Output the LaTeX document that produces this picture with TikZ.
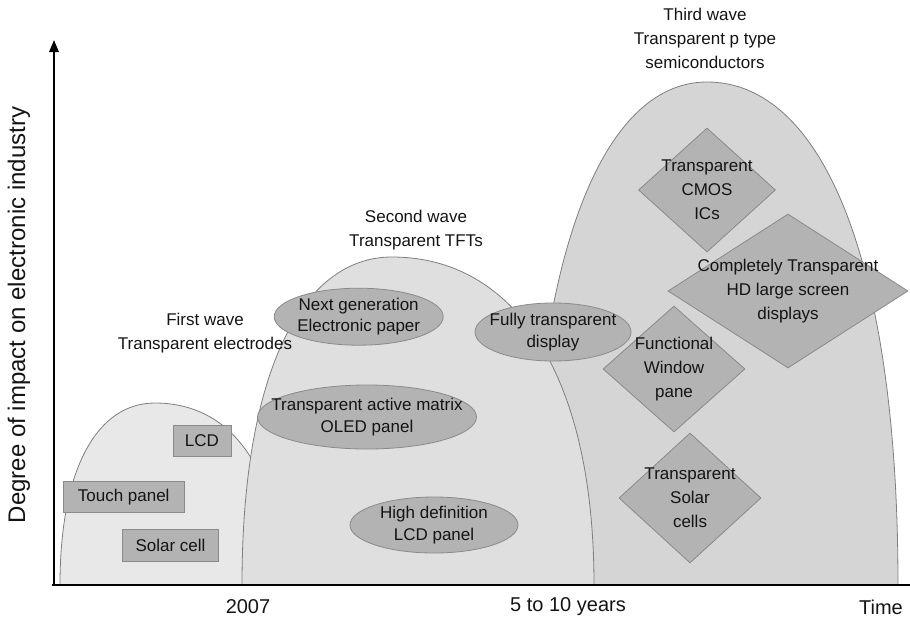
\documentclass[tikz,border=0pt]{standalone}
\usepackage{fontspec}
\setmainfont{Liberation Sans}
\usetikzlibrary{shapes.geometric,arrows.meta}
\newdimen\pxu \pxu=0.75pt
\definecolor{waveA}{HTML}{E8E8E8}
\definecolor{waveB}{HTML}{DFDFDF}
\definecolor{waveC}{HTML}{D5D5D5}
\definecolor{shapefill}{HTML}{B3B3B3}
\definecolor{shapeline}{HTML}{8A8A8A}
\definecolor{arcline}{HTML}{7F7F7F}
\begin{document}
\begin{tikzpicture}[x=0.75pt,y=-0.75pt,
  txt/.style={font=\fontsize{12.75}{18}\selectfont, align=center, inner sep=0pt, text=black!92},
  otxt/.style={txt, font=\fontsize{12.75}{16}\selectfont},
  atxt/.style={txt, font=\fontsize{15}{18}\selectfont},
  box/.style={rectangle, draw=shapeline, fill=shapefill, line width=0.6pt, inner sep=0pt},
  oval/.style={ellipse, draw=shapeline, fill=shapefill, line width=0.6pt, inner sep=0pt},
  dia/.style={diamond, draw=shapeline, fill=shapefill, line width=0.6pt, inner sep=0pt},
  wave/.style={draw=arcline, line width=0.6pt},
  axisline/.style={line width=1.6pt, black}]
\useasboundingbox (0,0) rectangle (910,621);

% waves
\filldraw[wave, fill=waveA] (60,585) .. controls (60,467) and (98,403) .. (155,403)
   .. controls (230,403) and (280,467) .. (280,585) -- cycle;
\filldraw[wave, fill=waveC] (530,585) .. controls (530,260) and (601,82) .. (707,82)
   .. controls (822,82) and (898,260) .. (898,585) -- cycle;
\filldraw[wave, fill=waveB] (242,585) .. controls (242,372) and (302,257) .. (392,257)
   .. controls (513,257) and (594,372) .. (594,585) -- cycle;

% axes
\coordinate (O) at (54,585);
\coordinate (ytop) at (54,40);
\coordinate (xl) at (52,585);
\coordinate (xend) at (910,585);
\draw[axisline] (xl) -- (xend);
\draw[axisline, -{Triangle[length=9pt,width=7pt]}] (O) -- (ytop);

% headers
\node[txt] (h1) at (205,333.5) {First wave\\Transparent electrodes};
\node[txt] (h2) at (416,230) {Second wave\\Transparent TFTs};
\node[txt] (h3) at (705,38) {Third wave\\Transparent p type\\semiconductors};

% axis labels
\node[txt, rotate=90, font=\fontsize{18}{21}\selectfont] (ylab) at (19,315) {Degree of impact on electronic industry};
\node[atxt] (t1) at (248,607) {2007};
\node[atxt] (t2) at (568,607) {5 to 10 years};
\node[atxt] (t3) at (881,607) {Time};

% first wave boxes
\node[box, minimum width=58\pxu, minimum height=31\pxu] (lcd) at (202,440.5) {};
\node[txt] at (lcd) {LCD};
\node[box, minimum width=121\pxu, minimum height=31\pxu] (touch) at (123.7,497) {};
\node[txt] at (touch) {Touch panel};
\node[box, minimum width=96\pxu, minimum height=32\pxu] (solar) at (170.5,545.5) {};
\node[txt] at (solar) {Solar cell};

% second wave ellipses
\node[oval, minimum width=169\pxu, minimum height=57\pxu] (epaper) at (358.7,316.7) {};
\node[otxt] at (epaper) {Next generation\\Electronic paper};
\node[oval, minimum width=219\pxu, minimum height=64\pxu] (oled) at (367,417) {};
\node[otxt] at (oled) {Transparent active matrix\\OLED panel};
\node[oval, minimum width=168\pxu, minimum height=56\pxu] (hdlcd) at (434,525) {};
\node[otxt] at (hdlcd) {High definition\\LCD panel};
\node[oval, minimum width=156\pxu, minimum height=58\pxu] (fully) at (553,332) {};
\node[otxt] at (fully) {Fully transparent\\display};

% third wave diamonds
\node[dia, minimum width=137\pxu, minimum height=124\pxu] (cmos) at (707,190) {};
\node[txt] at (cmos) {Transparent\\CMOS\\ICs};
\node[dia, minimum width=240\pxu, minimum height=154\pxu] (hd) at (788,291) {};
\node[txt] at (hd) {Completely Transparent\\HD large screen\\displays};
\node[dia, minimum width=142\pxu, minimum height=126\pxu] (window) at (674,369) {};
\node[txt] at (window) {Functional\\Window\\pane};
\node[dia, minimum width=142\pxu, minimum height=130\pxu] (tsolar) at (690,498) {};
\node[txt] at (tsolar) {Transparent\\Solar\\cells};
\end{tikzpicture}
\end{document}
